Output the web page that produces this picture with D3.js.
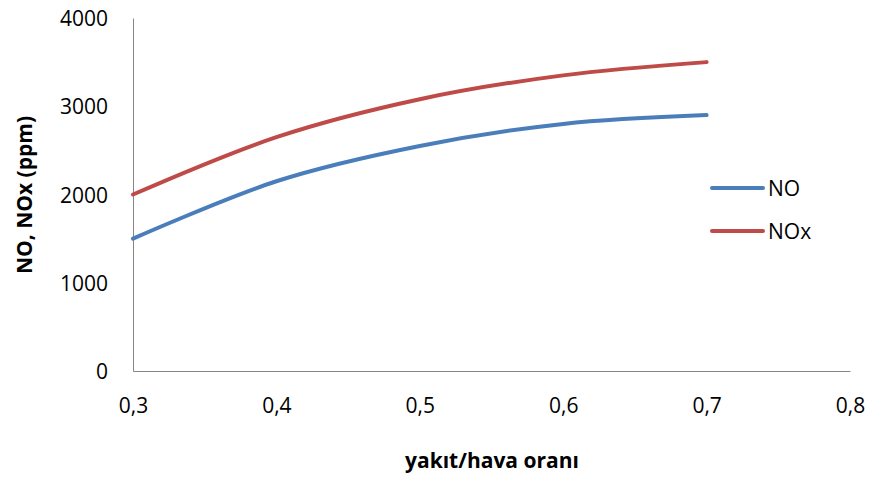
<!DOCTYPE html>
<html>
<head>
<meta charset="utf-8">
<script src="https://cdn.jsdelivr.net/npm/d3@7"></script>
<style>
  body { margin: 0; background: #fff; }
  text { font-family: "Open Sans", sans-serif; fill: #000; }
</style>
</head>
<body>
<div id="chart"></div>
<script>
// values
const ratio = [0.3, 0.4, 0.5, 0.6, 0.7];
const noVals = [1500, 2150, 2550, 2800, 2900];
const noxVals = [2000, 2650, 3080, 3350, 3500];
const xTicks = [0.3, 0.4, 0.5, 0.6, 0.7, 0.8];
const yTicks = [0, 1000, 2000, 3000, 4000];
const seriesNames = ["NO", "NOx"];

const W = 871, H = 480;
const margin = {top: 18, right: 21, bottom: 109, left: 133},
    width = W - margin.left - margin.right,
    height = H - margin.top - margin.bottom;

var svg = d3.select("#chart").append("svg")
    .attr("width", W)
    .attr("height", H);

var g = svg.append("g").attr("transform", "translate(" + margin.left + "," + margin.top + ")");

var x = d3.scaleLinear().domain([0.3, 0.8]).range([0, width]);
var y = d3.scaleLinear().domain([0, 4000]).range([height, 0]);

var colors = ["#4A7EBB", "#BE4B48"];

// axes, no tick marks
var xAxis = g.append("g")
    .attr("transform", "translate(0," + height + ")")
    .call(d3.axisBottom(x).tickValues(xTicks).tickSize(0).tickPadding(36)
        .tickFormat(function(d) { return d.toFixed(1).replace(".", ","); }));
var yAxis = g.append("g")
    .call(d3.axisLeft(y).tickValues(yTicks).tickSize(0).tickPadding(25).tickFormat(d3.format("d")));

[xAxis, yAxis].forEach(function(a) {
  a.select(".domain").attr("stroke", "#868686").attr("stroke-width", 1);
  a.selectAll("text").style("font-size", "21px").attr("fill", "#000");
});
xAxis.selectAll("text").attr("dy", "0.3em");
yAxis.selectAll("text").attr("dy", "0.36em");

var line = d3.line()
    .x(function(d) { return x(d[0]); })
    .y(function(d) { return y(d[1]); })
    .curve(d3.curveCatmullRom.alpha(0));

[noVals, noxVals].forEach(function(vals, i) {
  g.append("path")
    .datum(ratio.map(function(r, j) { return [r, vals[j]]; }))
    .attr("fill", "none")
    .attr("stroke", colors[i])
    .attr("stroke-width", 4)
    .attr("stroke-linecap", "round")
    .attr("d", line);
});

// legend
var legend = svg.append("g").attr("transform", "translate(712,188)");
seriesNames.forEach(function(name, i) {
  var row = legend.append("g").attr("transform", "translate(0," + (i * 43) + ")");
  row.append("line")
    .attr("x1", 0).attr("x2", 51)
    .attr("stroke", colors[i]).attr("stroke-width", 4).attr("stroke-linecap", "round");
  row.append("text")
    .attr("x", 56).attr("dy", "0.36em")
    .style("font-size", "21px")
    .text(name);
});

// axis titles
svg.append("text")
  .attr("x", 492).attr("y", 468)
  .style("text-anchor", "middle")
  .style("font-size", "21px")
  .style("font-weight", "bold")
  .text("yakıt/hava oranı");

svg.append("text")
  .attr("transform", "translate(32,195) rotate(-90)")
  .style("text-anchor", "middle")
  .style("font-size", "21px")
  .style("font-weight", "bold")
  .text("NO, NOx (ppm)");
</script>
</body>
</html>
